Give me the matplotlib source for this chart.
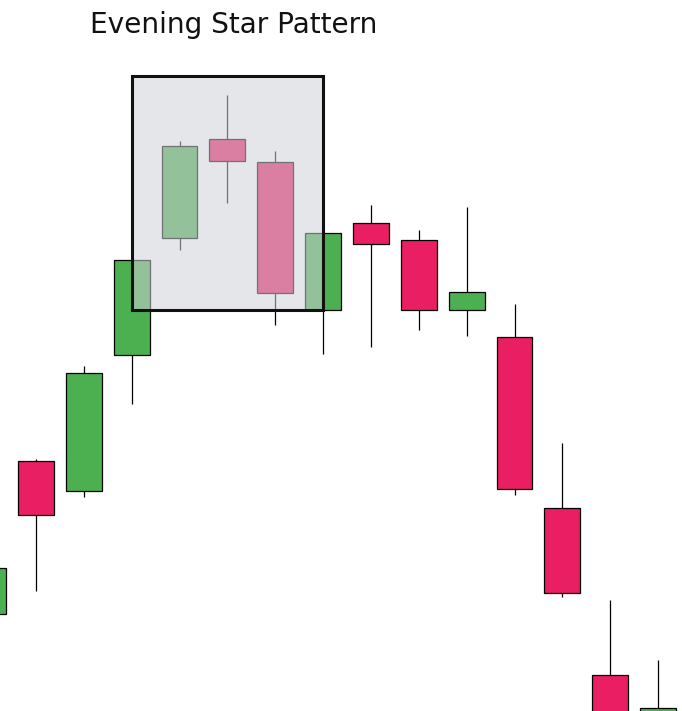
import numpy as np
import matplotlib.pyplot as plt
from matplotlib.patches import Rectangle

# candle data (price units)
opens  = [9.7, 25.0, 22.0, 35.6, 47.3, 57.2, 54.9, 40.1, 48.8, 47.1, 40.1, 37.4, 20.3, 3.6, -0.4]
closes = [14.3, 19.6, 33.8, 45.1, 56.5, 55.0, 41.8, 47.8, 46.7, 40.1, 41.9, 22.2, 11.8, -0.9, 0.3]
highs  = [14.3, 25.2, 34.5, 45.1, 57.0, 61.6, 56.0, 47.8, 50.6, 48.1, 50.4, 40.7, 26.8, 11.1, 5.1]
lows   = [9.7, 12.0, 21.4, 30.7, 46.1, 50.8, 38.6, 35.7, 36.4, 38.1, 37.5, 21.6, 11.4, -1.0, -0.4]

# highlighted pattern zone (candle index range, price range)
zone_x = [3, 7]
zone_y = [40.1, 63.5]

green = '#4caf50'
red = '#e91e63'

x = np.arange(len(opens))
o = np.array(opens)
c = np.array(closes)
colors = [green if cc >= oo else red for oo, cc in zip(o, c)]

fig = plt.figure(figsize=(6.82, 7.11), dpi=100)
ax = fig.add_axes([0, 0, 1, 1])

ax.vlines(x, lows, highs, color='black', linewidth=0.9, zorder=1)
ax.bar(x, np.abs(c - o), bottom=np.minimum(o, c), width=0.75,
       color=colors, edgecolor='black', linewidth=0.9, zorder=2)

# translucent zone over the evening star candles
ax.add_patch(Rectangle((zone_x[0], zone_y[0]), zone_x[1] - zone_x[0], zone_y[1] - zone_y[0],
                       facecolor='#d0d2d8', alpha=0.54, edgecolor='none', zorder=3))
ax.add_patch(Rectangle((zone_x[0], zone_y[0]), zone_x[1] - zone_x[0], zone_y[1] - zone_y[0],
                       facecolor='none', edgecolor='#111111', linewidth=2.2, zorder=4))

ax.set_xlim(0.248, 14.5)
ax.set_ylim(0, 71.1)
ax.axis('off')

fig.text(0.132, 0.954, 'Evening Star Pattern', fontsize=20.2, family='DejaVu Sans',
         va='baseline', ha='left', color='#111111')

fig.savefig('out.png', dpi=100)
